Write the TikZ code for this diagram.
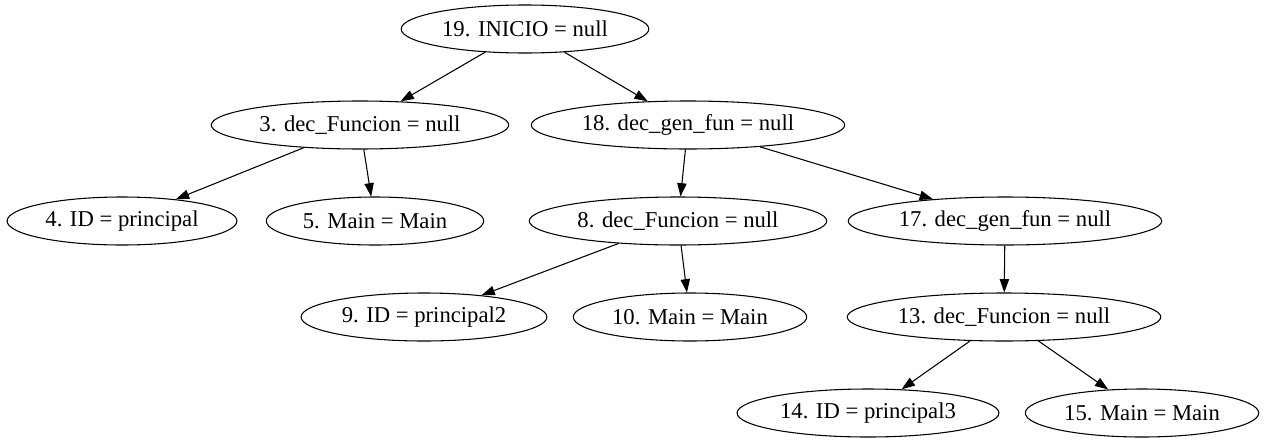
\documentclass[tikz,border=0pt]{standalone}
\usepackage{fontspec}
\setmainfont{Liberation Serif}
\usepackage{tikz}
\usetikzlibrary{shapes.geometric}
\usetikzlibrary{arrows.meta}

\begin{document}
\begin{tikzpicture}[x=0.75pt,y=-0.75pt]
\tikzset{treenode/.style={ellipse,draw=black,line width=0.8pt,minimum height=36pt,inner xsep=3.5pt,inner ysep=1pt,font=\fontsize{17}{20}\selectfont}}
\tikzset{treeedge/.style={line width=0.8pt,-{Triangle[length=10pt,width=7pt]}}}
\useasboundingbox (0,0) rectangle (1266,443);

\node[treenode] (n19) at (525,29) {19. INICIO = null};
\node[treenode] (n3) at (360,125) {3. dec\_Funcion = null};
\node[treenode] (n18) at (688,125) {18. dec\_gen\_fun = null};
\node[treenode] (n4) at (122,221) {4. ID = principal};
\node[treenode] (n5) at (375,221) {5. Main = Main};
\node[treenode] (n8) at (678,221) {8. dec\_Funcion = null};
\node[treenode] (n17) at (1005,221) {17. dec\_gen\_fun = null};
\node[treenode] (n9) at (424,317) {9. ID = principal2};
\node[treenode] (n10) at (690,317) {10. Main = Main};
\node[treenode] (n13) at (1004,317) {13. dec\_Funcion = null};
\node[treenode] (n14) at (868,413) {14. ID = principal3};
\node[treenode] (n15) at (1142,413) {15. Main = Main};

\draw[treeedge] (n19) -- (n3);
\draw[treeedge] (n19) -- (n18);
\draw[treeedge] (n3) -- (n4);
\draw[treeedge] (n3) -- (n5);
\draw[treeedge] (n18) -- (n8);
\draw[treeedge] (n18) -- (n17);
\draw[treeedge] (n8) -- (n9);
\draw[treeedge] (n8) -- (n10);
\draw[treeedge] (n17) -- (n13);
\draw[treeedge] (n13) -- (n14);
\draw[treeedge] (n13) -- (n15);
\end{tikzpicture}
\end{document}
